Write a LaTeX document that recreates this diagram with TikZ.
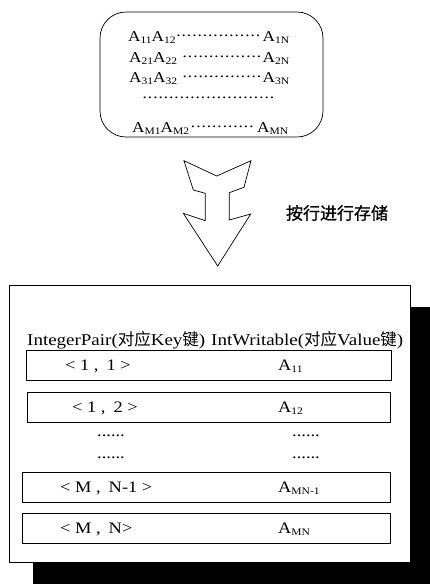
\documentclass[tikz,border=0pt]{standalone}
\usepackage{fontspec}
\setmainfont{Liberation Serif}[FakeStretch=1.15]
\newfontfamily\cjk{Noto Sans CJK SC}
\newfontfamily\cjkheavy{Noto Sans CJK SC}[FakeBold=1]
% A with a lowered index
\newcommand\Asub[1]{A\raisebox{-2.4pt}{\fontsize{10}{10}\selectfont #1}}
% dots set at mid height, filling the available room
\newcommand\middots{\leaders\hbox to 5.3pt{\hss\raisebox{0.28em}{.}\hss}\hfill}

\tikzset{
  frame/.style={draw, line width=0.7pt, inner sep=0pt},
  rowbox/.style={frame, minimum height=30pt},
  mtext/.style={anchor=base west, inner sep=0pt, font=\fontsize{15}{18}\selectfont},
  ttext/.style={anchor=base west, inner sep=0pt, font=\fontsize{16}{19}\selectfont},
  htext/.style={anchor=base west, inner sep=0pt, font=\fontsize{16.5}{19}\selectfont},
}

\begin{document}
\begin{tikzpicture}[x=1pt, y=-1pt]
\useasboundingbox (0,0) rectangle (430,584);

% ---- matrix of elements ----
\node[frame, rounded corners=26pt, minimum width=223pt, minimum height=125pt] (mat) at (211.5,74.5) {};
\node[mtext] (m1) at (128,41) {\hbox to 161pt{\Asub{11}\Asub{12}\middots\Asub{1N}}};
\node[mtext] (m2) at (129,62) {\hbox to 160pt{\Asub{21}\Asub{22}\middots\Asub{2N}}};
\node[mtext] (m3) at (129,82) {\hbox to 160pt{\Asub{31}\Asub{32}\middots\Asub{3N}}};
\node[mtext] (m4) at (142,103) {\hbox to 135pt{\middots}};
\node[mtext] (m5) at (132,132) {\hbox to 156pt{\Asub{M1}\Asub{M2}\middots\Asub{MN}}};

% ---- block arrow ----
\draw[line width=0.7pt, line join=miter]
  (184,160.7) -- (216.7,176) -- (251,160.7) -- (244,187.3) -- (229.3,192.7)
  -- (229.3,220) -- (250.7,214) -- (217.7,266) -- (183.3,213.3) -- (205.3,220.7)
  -- (205.3,193.3) -- (193.3,190) -- cycle;
\node[font=\cjkheavy\fontsize{17}{20}\selectfont, inner sep=0pt] (how) at (337,213) {按行进行存储};

% ---- key/value store ----
\fill[black] (33,307) rectangle (430,584);
\node[frame, fill=white, minimum width=401pt, minimum height=277pt] (store) at (209.5,423.5) {};

\node[htext] (hk) at (27,345) {IntegerPair({\cjk 对应}Key{\cjk 键})};
\node[htext] (hv) at (211,345) {IntWritable({\cjk 对应}Value{\cjk 键})};

\node[rowbox, minimum width=365pt] (r1) at (208.5,365) {};
\node[rowbox, minimum width=363pt] (r2) at (208.5,407) {};
\node[rowbox, minimum width=368pt] (r3) at (206,487) {};
\node[rowbox, minimum width=368pt] (r4) at (206,528) {};

\node[ttext] (k1) at (65,370.5) {< 1 ,\enspace 1 >};
\node[ttext] (v1) at (278,370.5) {\Asub{11}};
\node[ttext] (k2) at (72,412.5) {< 1 ,\enspace 2 >};
\node[ttext] (v2) at (278,412.5) {\Asub{12}};

\node[ttext] (dk1) at (97,436) {......};
\node[ttext] (dv1) at (292,436) {......};
\node[ttext] (dk2) at (97,458) {......};
\node[ttext] (dv2) at (292,458) {......};

\node[ttext] (k3) at (60,492.5) {< M ,\enspace N-1 >};
\node[ttext] (v3) at (278,492.5) {\Asub{MN-1}};
\node[ttext] (k4) at (60,533.5) {< M ,\enspace N>};
\node[ttext] (v4) at (278,533.5) {\Asub{MN}};
\end{tikzpicture}
\end{document}
